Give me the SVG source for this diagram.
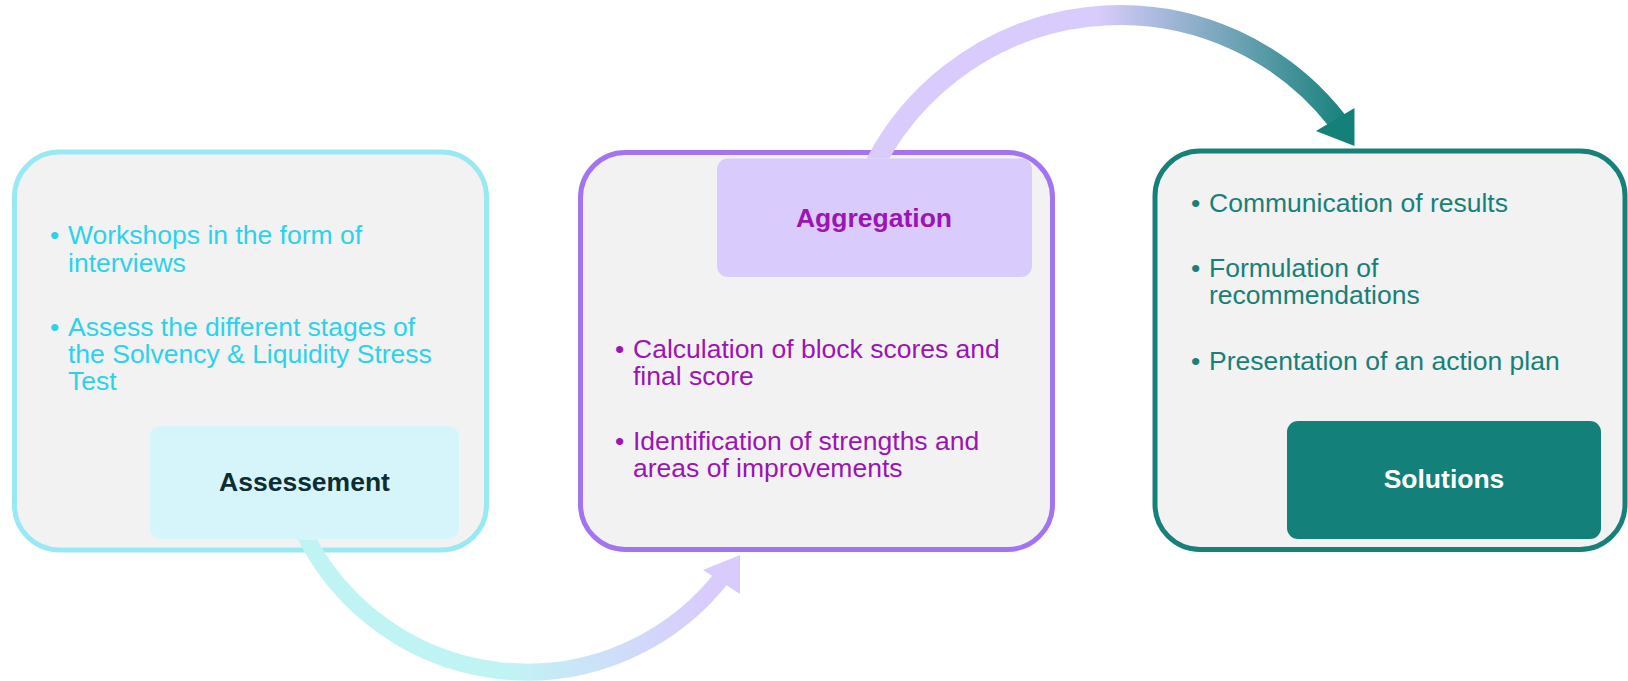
<svg xmlns="http://www.w3.org/2000/svg" width="1628" height="681" viewBox="0 0 1628 681">
  <defs>
    <style>
      text { font-family: "Liberation Sans", Arial, sans-serif; font-size: 26.5px; }
      .card { fill: #F2F2F2; stroke-width: 5; }
      .title { font-weight: bold; text-anchor: middle; }
      .c1 { fill: #2CD2EC; }
      .c2 { fill: #9C14B4; }
      .c3 { fill: #178079; }
    </style>
    <linearGradient id="gradLow" gradientUnits="userSpaceOnUse" x1="505" y1="0" x2="705" y2="0">
      <stop offset="0" stop-color="#C0F4F4"/>
      <stop offset="1" stop-color="#D9CCFD"/>
    </linearGradient>
    <linearGradient id="gradHigh" gradientUnits="userSpaceOnUse" x1="1097" y1="0" x2="1352" y2="0">
      <stop offset="0" stop-color="#D9CCFD"/>
      <stop offset="1" stop-color="#138079"/>
    </linearGradient>
    <clipPath id="clipLow"><rect x="0" y="539.5" width="1628" height="142"/></clipPath>
    <clipPath id="clipHigh"><rect x="0" y="0" width="1628" height="158.5"/></clipPath>
  </defs>

  <rect width="1628" height="681" fill="#FFFFFF"/>

  <!-- Stage 1 -->
  <g id="assessment">
    <rect class="card" x="14.5" y="152" width="472" height="398" rx="45" stroke="#99E9F5"/>
    <rect x="150" y="426" width="309" height="113" rx="11" fill="#D5F5FA"/>
    <text class="c1" x="50" y="244">•</text>
    <text class="c1" x="68" y="244">Workshops in the form of</text>
    <text class="c1" x="68" y="271.5">interviews</text>
    <text class="c1" x="50" y="336">•</text>
    <text class="c1" x="68" y="336">Assess the different stages of</text>
    <text class="c1" x="68" y="363">the Solvency &amp; Liquidity Stress</text>
    <text class="c1" x="68" y="390">Test</text>
    <text class="title" x="304.5" y="491" fill="#0E2C33">Assessement</text>
  </g>

  <!-- Stage 2 -->
  <g id="aggregation">
    <rect class="card" x="580.5" y="152.5" width="472" height="397" rx="45" stroke="#A374F2"/>
    <rect x="717" y="158.5" width="315" height="118.5" rx="11" fill="#D9CCFD"/>
    <text class="title c2" x="874" y="227">Aggregation</text>
    <text class="c2" x="615" y="358">•</text>
    <text class="c2" x="633" y="358">Calculation of block scores and</text>
    <text class="c2" x="633" y="385">final score</text>
    <text class="c2" x="615" y="450">•</text>
    <text class="c2" x="633" y="450">Identification of strengths and</text>
    <text class="c2" x="633" y="477">areas of improvements</text>
  </g>

  <!-- Stage 3 -->
  <g id="solutions">
    <rect class="card" x="1155" y="151" width="470" height="398.5" rx="45" stroke="#178079"/>
    <rect x="1287" y="421" width="314" height="118" rx="11" fill="#138079"/>
    <text class="title" x="1444" y="488" fill="#FFFFFF">Solutions</text>
    <text class="c3" x="1191" y="212">•</text>
    <text class="c3" x="1209" y="212">Communication of results</text>
    <text class="c3" x="1191" y="277">•</text>
    <text class="c3" x="1209" y="277">Formulation of</text>
    <text class="c3" x="1209" y="304">recommendations</text>
    <text class="c3" x="1191" y="370">•</text>
    <text class="c3" x="1209" y="370">Presentation of an action plan</text>
  </g>

  <!-- Curved arrows between stages -->
  <g id="connectors">
    <g clip-path="url(#clipLow)">
      <path d="M 300,524 A 248 248 0 0 0 723.8,575" fill="none" stroke="url(#gradLow)" stroke-width="17"/>
    </g>
    <polygon points="703,570 740,555 740,594" fill="#D9CCFD"/>
    <g clip-path="url(#clipHigh)">
      <path d="M 869.6,175 A 276 276 0 0 1 1337.5,121.1" fill="none" stroke="url(#gradHigh)" stroke-width="20"/>
    </g>
    <polygon points="1316,131 1354.5,108 1354.5,146" fill="#138079"/>
  </g>
</svg>
